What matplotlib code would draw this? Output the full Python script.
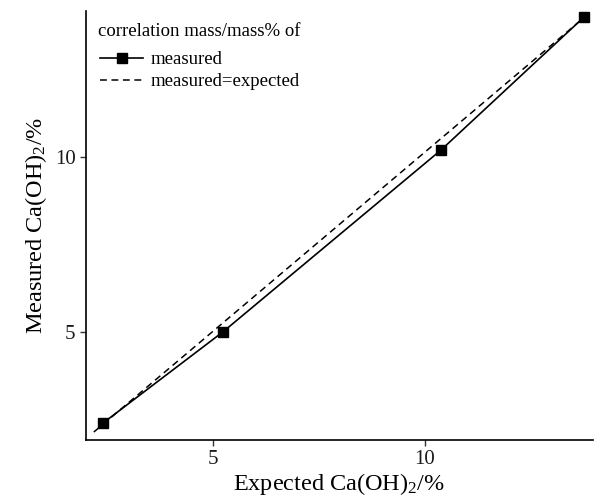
import numpy as np
from matplotlib import pyplot as plt

plt.rcParams['font.family'] = ['Liberation Serif', 'DejaVu Serif']
plt.rcParams['mathtext.default'] = 'regular'

# values
expected = [2.41, 5.25, 10.38, 13.74]
measured = [2.40, 5.02, 10.21, 14.00]
ideal_x = [2.20, 13.90]
ideal_y = [2.15, 14.15]

fig = plt.figure(figsize=(5.96, 4.98), dpi=100)
ax = fig.add_axes([0.1443, 0.117, 0.8502, 0.861])

ax.plot(expected, measured, color="black", linewidth=1.2, marker="s",
        markersize=7.5, label="measured")
ax.plot(ideal_x, ideal_y, color="black", linewidth=1.1, linestyle=(0, (4.5, 3)),
        label="measured=expected")

ax.set_xlim(2.016, 13.95)
ax.set_ylim(1.93, 14.18)
ax.set_xticks([5, 10])
ax.set_yticks([5, 10])

for side in ["top", "right"]:
    ax.spines[side].set_visible(False)
for side in ["left", "bottom"]:
    ax.spines[side].set_linewidth(1.2)
ax.tick_params(length=4, width=1, colors="#333333", labelsize=15, labelcolor="#1a1a1a")

ax.set_xlabel(r"Expected Ca(OH)$_{2}$/%", fontsize=17.5, labelpad=1)
ax.set_ylabel(r"Measured Ca(OH)$_{2}$/%", fontsize=17.5, labelpad=4)

# legend title drawn separately for the wider gap above the entries
ax.text(0.0237, 0.951, "correlation mass/mass% of", transform=ax.transAxes,
        fontsize=13.5, va="center", ha="left")
ax.legend(loc="upper left", bbox_to_anchor=(0.0276, 0.906), frameon=False,
          fontsize=13.5, handlelength=2.3, handletextpad=0.4,
          borderaxespad=0, borderpad=0, labelspacing=0.25)

plt.savefig("out.png", dpi=100)
